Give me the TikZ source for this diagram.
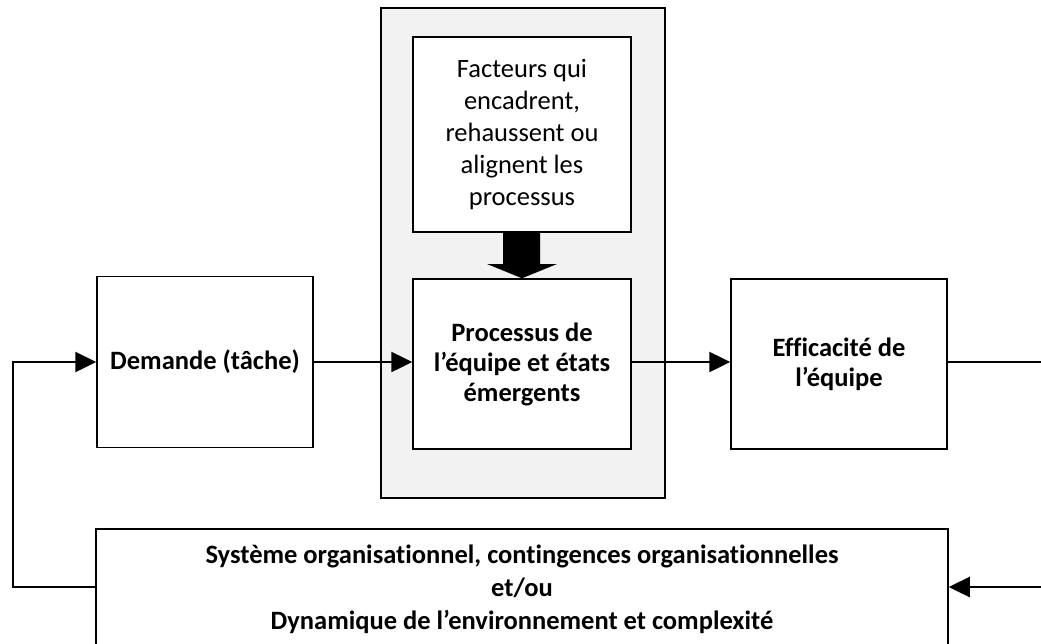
\documentclass[tikz,border=0pt]{standalone}
\usepackage{fontspec}
\setmainfont{Carlito}[Ligatures=NoCommon]
\usetikzlibrary{arrows.meta}
\definecolor{panelgray}{HTML}{F2F2F2}
\begin{document}
\begin{tikzpicture}[x=1pt,y=-1pt,
  box/.style={draw=black, line width=1.5pt, fill=white, inner sep=0pt,
    align=center, font=\fontsize{26.5}{30}\selectfont\bfseries},
  link/.style={line width=2.5pt},
  arr/.style={link, -{Triangle[length=21pt,width=20pt]}}]
\useasboundingbox (0,0) rectangle (1041,643);
\clip (0,0) rectangle (1041,643);

% grey panel around the process block
\node[draw=black, line width=1.5pt, fill=panelgray, minimum width=284pt,
  minimum height=490pt] (panel) at (523,253) {};

\node[box, minimum width=218pt, minimum height=195pt,
  font=\fontsize{26.5}{32}\selectfont] (fact) at (522,134.5)
  {Facteurs qui\\encadrent,\\rehaussent ou\\alignent les\\processus};
\node[box, minimum width=218pt, minimum height=170pt] (proc) at (522,364)
  {Processus de\\l’équipe et états\\émergents};
\node[box, minimum width=216pt, minimum height=171pt] (dem) at (205,362)
  {Demande (tâche)};
\node[box, minimum width=216pt, minimum height=170pt] (eff) at (839,364)
  {Efficacité de\\l’équipe};
\node[box, minimum width=852pt, minimum height=120pt,
  font=\fontsize{26.5}{33}\selectfont\bfseries] (sys) at (522,589)
  {Système organisationnel, contingences organisationnelles\\et/ou\\Dynamique de l’environnement et complexité};

% block arrow from the framing factors to the process box
\fill[black] (fact.south -| 503,0) -- (503,264) -- (487,264) -- (proc.north)
  -- (557,264) -- (540,264) -- (fact.south -| 540,0) -- cycle;

% main flow
\draw[arr] (dem.east) -- (dem.east -| proc.west);
\draw[arr] (dem.east -| proc.east) -- (dem.east -| eff.west);

% feedback loop through the organisational context
\coordinate (rout) at (1050,362);
\coordinate (rin) at (1050,587);
\coordinate (lft) at (13,587);
\draw[link] (dem.east -| eff.east) -- (rout);
\draw[arr] (rin) -- (rin -| sys.east);
\draw[arr] (lft -| sys.west) -- (lft) |- (dem.west);
\end{tikzpicture}
\end{document}
